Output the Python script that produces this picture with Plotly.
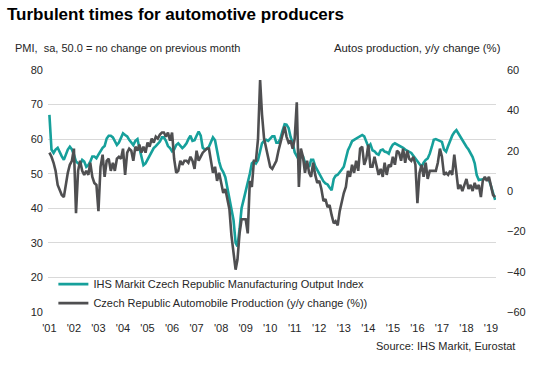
import pandas as pd
import plotly.graph_objects as go

# Monthly data, Jul 2001 - Sep 2019
dates = pd.date_range("2001-07-01", periods=219, freq="MS")

pmi_output = [
    67, 57, 56, 57, 57.5, 56, 55, 54, 55.5, 57, 57.8, 57, 55.5, 53.5, 53, 52.5, 54, 53.5, 52, 52.5,
    53.5, 55, 55, 54.5, 55.5, 56.5, 57.5, 58, 60.2, 61, 61, 60.5, 59.5, 58.3, 59, 60.5, 61.7, 61.2, 60.8, 59.8,
    59, 58.3, 59.5, 60, 57.5, 55, 52.5, 53, 54, 55, 56, 57.4, 58, 58.8, 59.3, 60.5, 60.5, 59.5, 58, 57.4,
    56.5, 57, 58.3, 58.8, 58, 57.4, 58, 58.8, 60, 61, 59.5, 59.7, 61, 62.2, 61, 57.5, 57, 57.2, 57.8, 59,
    60.5, 59.7, 56.5, 53.5, 51.5, 50.5, 49, 46, 43, 40, 36.6, 30, 29, 34, 40, 42.5, 44.8, 47, 50, 53,
    53.6, 53, 54, 56.5, 58.8, 59.5, 59.8, 59.5, 60.2, 60.8, 60.8, 59, 59, 60.2, 62.5, 64.3, 64.2, 63.2, 60.6, 59,
    56.2, 55, 54, 54.8, 55, 53.3, 52.5, 52, 54, 54, 52.2, 51, 49.8, 48.6, 47.8, 47.2, 46.9, 46, 45.2, 48.5,
    49.4, 49.7, 50.3, 51.2, 52, 54.5, 56.8, 58, 59.4, 59.8, 60.2, 60.7, 61, 61.2, 60.8, 59.5, 57.8, 58.5, 56.8, 56.5,
    55.8, 55.5, 56.8, 57, 56.4, 56.2, 55.8, 57.4, 58.4, 58.8, 58.5, 58.2, 57.9, 57.5, 57, 56.6, 56.3, 56, 55.2, 54.4,
    53.8, 53, 52, 53.2, 54, 54.4, 55.8, 57.8, 59.8, 60, 59.8, 59.6, 59.2, 57, 56.4, 58, 59.8, 61, 62, 62.6,
    61.7, 60.6, 59.6, 58.6, 57.8, 57, 56, 54.8, 53, 49.6, 48.2, 48.2, 48.4, 48.6, 48.4, 48.2, 46.5, 44.5, 42.4,
]

auto_production = [
    19, 17, 14, 10, 3, 0, -2, -3, 3, 9, 13, 15, 21, -11, 10, 15, 10, 8, 10, 8,
    14, 7, 4, 3, -10, 12, 18, 7, 15, 16, 10, 14, 10, 16, 17, 16, 21, 8, 19, 21,
    20, 15, 22, 20, 23, 19, 22, 19, 24, 22, 26, 24, 27, 26, 28, 29, 29, 27, 29, 25,
    29, 16, 9, 10, 15, 13, 15, 15, 14, 17, 15, 11, 20, 15, 17, 19, 20, 21, 21, 14,
    9, 12, 5, 9, 3, -1, 1, -4, -9, -22, -31, -39, -34, -21, -14, -14, -14, -21, 5, 2,
    15, 15, 26, 55, 38, 26, 21, 16, 12, 11, 13, 15, 20, 24, 27, 32, 27, 24, 25, 21,
    26, 44, 2, 21, 17, 9, 15, 9, 7, 14, 8, 4, 5, 1, -5, -4, -8, -7, -12, -16,
    -15, -17, -10, -5, -1, 2, 10, 7, 13, 9, 15, 10, 21, 22, 13, 16, 23, 12, 12, 17,
    12, 8, 11, 7, 14, 8, 13, 12, 17, 13, 20, 19, 15, 21, 14, 20, 16, 15, 17, 13,
    -6, 9, 13, 7, 14, 6, 10, 10, 10, 10, 14, 21, 17, 8, 9, 8, 10, 8, 18, 9,
    1, 3, 0, 3, 6, 1, 3, 0, 4, 1, 3, -3, 5, 7, 5, 7, 3, -2, -3,
]

year_ticks = [f"{y}-07-01" for y in range(2001, 2020)]
year_labels = [f"'{y % 100:02d}" for y in range(2001, 2020)]

TEAL = "#16a09b"
DARK = "#4f4f51"
FONT = "Liberation Sans, Arial, sans-serif"
TXT = "#262626"

PL, PT, PW, PH = 48, 70, 448, 242

fig = go.Figure()
fig.add_trace(go.Scatter(
    x=dates, y=pmi_output, mode="lines", name="IHS Markit Czech Republic Manufacturing Output Index",
    line=dict(color=TEAL, width=2.6), yaxis="y",
))
fig.add_trace(go.Scatter(
    x=dates, y=auto_production, mode="lines", name="Czech Republic Automobile Production (y/y change (%))",
    line=dict(color=DARK, width=2.6), yaxis="y2",
))


def px(xs):
    return (xs - PL) / PW


def py(ys):
    return (PT + PH - ys) / PH


fig.update_layout(
    width=545, height=369,
    margin=dict(l=PL, r=545 - PL - PW, t=PT, b=369 - PT - PH),
    paper_bgcolor="white", plot_bgcolor="white",
    font=dict(family=FONT, size=11, color=TXT),
    showlegend=True,
    legend=dict(
        x=0.012, y=0.175, xanchor="left", yanchor="top",
        bgcolor="rgba(0,0,0,0)", font=dict(size=11, color=TXT),
        tracegroupgap=0, itemwidth=30,
    ),
    xaxis=dict(
        type="date", range=["2001-06-10", "2019-09-14"],
        tickmode="array", tickvals=year_ticks, ticktext=year_labels,
        showgrid=False, zeroline=False, showline=False, ticks="",
        tickfont=dict(size=11, color=TXT), ticklabelstandoff=8,
    ),
    yaxis=dict(
        range=[10, 80], dtick=10, tick0=10, showgrid=True, gridcolor="#d9d9d9", gridwidth=1,
        zeroline=False, showline=False, ticks="", tickfont=dict(size=11, color=TXT),
        ticklabelstandoff=4,
    ),
    yaxis2=dict(
        range=[-60, 60], dtick=20, tick0=-60, overlaying="y", side="right", showgrid=False,
        zeroline=False, showline=False, ticks="", tickfont=dict(size=11, color=TXT),
        ticklabelstandoff=10,
    ),
    annotations=[
        dict(text="<b>Turbulent times for automotive producers</b>", xref="paper", yref="paper",
             x=px(5), y=py(15), xanchor="left", yanchor="middle",
             showarrow=False, font=dict(size=17, color="#000000", family=FONT)),
        dict(text="PMI,  sa, 50.0 = no change on previous month", xref="paper", yref="paper",
             x=px(13), y=py(48), xanchor="left", yanchor="middle",
             showarrow=False, font=dict(size=11, color=TXT)),
        dict(text="Autos production, y/y change (%)", xref="paper", yref="paper",
             x=px(503), y=py(48), xanchor="right", yanchor="middle",
             showarrow=False, font=dict(size=11.3, color=TXT)),
        dict(text="Source: IHS Markit, Eurostat", xref="paper", yref="paper",
             x=px(517), y=py(346), xanchor="right", yanchor="middle",
             showarrow=False, font=dict(size=11, color=TXT)),
    ],
)

fig.write_html(
    "out.html",
    config={"displayModeBar": False},
    post_script="document.body.style.margin='0';",
)
